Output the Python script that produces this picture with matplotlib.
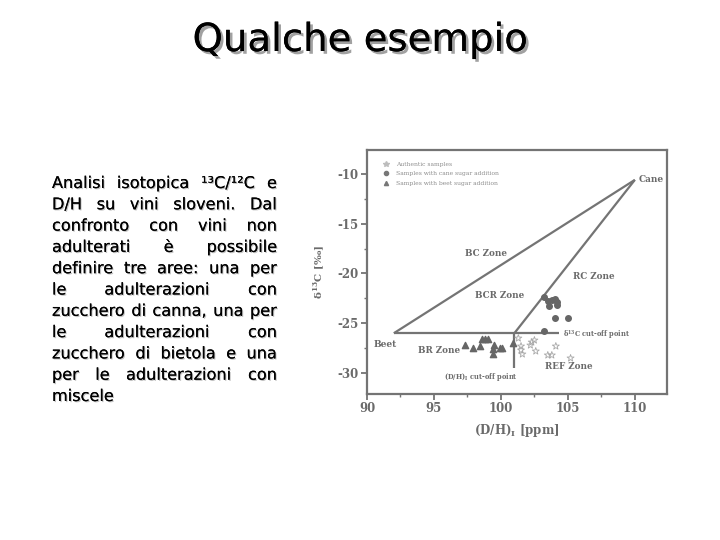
import matplotlib
matplotlib.use('Agg')
import matplotlib.pyplot as plt
import matplotlib.patheffects as pe
from matplotlib.ticker import MultipleLocator
from matplotlib.lines import Line2D

plt.rcParams['axes.unicode_minus'] = False

# ---------------- data ----------------
tri_x = [97.3, 97.9, 98.4, 98.6, 98.8, 99.0, 99.4, 99.5, 99.4, 99.9, 100.1, 100.9]
tri_y = [-27.2, -27.5, -27.3, -26.6, -26.6, -26.6, -28.1, -27.2, -27.6, -27.5, -27.5, -27.0]
circ_x = [103.2, 103.5, 103.6, 103.8, 104.0, 104.2, 104.2, 104.0, 105.0, 103.2]
circ_y = [-22.4, -22.8, -23.3, -22.7, -22.6, -22.9, -23.2, -24.5, -24.5, -25.8]
star_x = [101.3, 101.5, 101.5, 101.6, 102.2, 102.3, 102.5, 102.6, 103.5, 103.8, 104.1, 105.2]
star_y = [-26.5, -27.3, -27.7, -28.1, -27.2, -26.9, -26.7, -27.8, -28.2, -28.2, -27.3, -28.5]

cane_pt = (110.0, -10.6)
beet_pt = (92.0, -26.0)
dh_cut = 101.0
c13_cut = -26.0
c13_line_end = 104.3
dh_line_end = -29.5

zone_labels = ["BC Zone", "RC Zone", "BCR Zone", "BR Zone", "REF Zone"]
zone_x = [98.9, 106.9, 99.9, 95.4, 105.1]
zone_y = [-18.0, -20.3, -22.2, -27.7, -29.3]

legend_labels = ["Authentic samples", "Samples with cane sugar addition",
                 "Samples with beet sugar addition"]

x_ticks = [90, 95, 100, 105, 110]
y_ticks = [-10, -15, -20, -25, -30]

title = "Qualche esempio"
body_lines = [
    "Analisi isotopica \u00b9\u00b3C/\u00b9\u00b2C e",
    "D/H su vini sloveni. Dal",
    "confronto con vini non",
    "adulterati \u00e8 possibile",
    "definire tre aree: una per",
    "le adulterazioni con",
    "zucchero di canna, una per",
    "le adulterazioni con",
    "zucchero di bietola e una",
    "per le adulterazioni con",
    "miscele",
]

# ---------------- figure ----------------
W, H = 720, 540
fig = plt.figure(figsize=(7.2, 5.4), dpi=100)
fig.patch.set_facecolor('white')
r = fig.canvas.get_renderer()

def fx(px):
    return px / W

def fy(py):
    return 1 - py / H

BODY_FONT = 'DejaVu Sans'
shadow_small = [pe.withSimplePatchShadow(offset=(0.8, -0.8), shadow_rgbFace='#9a9a9a', alpha=0.6), pe.Normal()]
shadow_big = [pe.withSimplePatchShadow(offset=(2, -2), shadow_rgbFace='#8a8a8a', alpha=0.8), pe.Normal()]

def text_width(s, fs, family=BODY_FONT, weight='normal'):
    t = fig.text(0, 0, s, fontsize=fs, family=family, weight=weight)
    w = t.get_window_extent(r).width
    t.remove()
    return w

# Title: size fitted to the reference width
tw_target = 335
fs_t = 30
fs_t = fs_t * tw_target / text_width(title, fs_t)
fig.text(0.5, fy(51), title, ha='center', va='baseline', fontsize=fs_t,
         family=BODY_FONT, color='black', path_effects=shadow_big)

# Body text, justified between two margins
left_px, right_px = 52, 277
box_w = right_px - left_px
fs_b = 12.0
maxw = max(text_width(l, fs_b) for l in body_lines)
if maxw > box_w * 0.97:
    fs_b = fs_b * box_w * 0.97 / maxw
base0, step = 188, 21.3
for i, line in enumerate(body_lines):
    y = fy(base0 + i * step)
    words = line.split(' ')
    if i == len(body_lines) - 1 or len(words) == 1:
        fig.text(fx(left_px), y, line, fontsize=fs_b, family=BODY_FONT,
                 va='baseline', ha='left', path_effects=shadow_small)
        continue
    widths = [text_width(w_, fs_b) for w_ in words]
    gap = (box_w - sum(widths)) / (len(words) - 1)
    x = left_px
    for w_, wd in zip(words, widths):
        fig.text(fx(x), y, w_, fontsize=fs_b, family=BODY_FONT,
                 va='baseline', ha='left', path_effects=shadow_small)
        x += wd + gap

# ---------------- chart ----------------
gray_txt = '#6a6a6a'
gray_line = '#747474'
SERIF = 'DejaVu Serif'

ax = fig.add_axes([fx(367), fy(394), 300 / W, 244 / H])
ax.set_xlim(90, 112.4)
ax.set_ylim(-32.1, -7.6)

for s in ax.spines.values():
    s.set_color(gray_line)
    s.set_linewidth(1.6)

ax.xaxis.set_minor_locator(MultipleLocator(2.5))
ax.yaxis.set_minor_locator(MultipleLocator(2.5))
ax.set_xticks(x_ticks)
ax.set_yticks(y_ticks)
ax.tick_params(which='major', direction='out', length=4, width=1.3, colors=gray_line,
               labelcolor=gray_txt, labelsize=8.5, pad=2)
ax.tick_params(which='minor', direction='out', length=2.5, width=1.0, colors=gray_line)
for lab in ax.get_xticklabels() + ax.get_yticklabels():
    lab.set_family(SERIF)
    lab.set_weight('bold')

ax.set_xlabel(r'(D/H)$_\mathregular{I}$ [ppm]', fontsize=8.5, family=SERIF,
              weight='bold', color=gray_txt, labelpad=5)
ax.set_ylabel('\u03b4$^\\mathregular{13}$C [‰]', fontsize=7.5, family=SERIF,
              weight='bold', color=gray_txt, labelpad=8)

lkw = dict(color=gray_line, lw=1.6, solid_capstyle='butt', zorder=2)
ax.plot([beet_pt[0], cane_pt[0]], [beet_pt[1], cane_pt[1]], **lkw)
ax.plot([dh_cut, cane_pt[0]], [c13_cut, cane_pt[1]], **lkw)
ax.plot([beet_pt[0], c13_line_end], [c13_cut, c13_cut], **lkw)
ax.plot([dh_cut, dh_cut], [c13_cut, dh_line_end], **lkw)

ax.scatter(star_x, star_y, marker='*', s=28, facecolors='none',
           edgecolors='#a8a8a8', linewidths=0.6, zorder=3)
ax.scatter(circ_x, circ_y, marker='o', s=16, color='#666666', zorder=3)
ax.scatter(tri_x, tri_y, marker='^', s=20, color='#666666', zorder=3)

for lbl, zx, zy in zip(zone_labels, zone_x, zone_y):
    ax.text(zx, zy, lbl, ha='center', va='center', fontsize=6.3, family=SERIF,
            weight='bold', color=gray_txt)

ax.text(cane_pt[0] + 0.25, cane_pt[1], 'Cane', ha='left', va='center', fontsize=6.5,
        family=SERIF, weight='bold', color=gray_txt)
ax.text(beet_pt[0] - 1.5, beet_pt[1] - 1.1, 'Beet', ha='left', va='center', fontsize=6.5,
        family=SERIF, weight='bold', color=gray_txt)
ax.text(c13_line_end + 0.3, c13_cut - 0.2, '\u03b4$^\\mathregular{13}$C cut-off point', ha='left',
        va='center', fontsize=4.8, family=SERIF, weight='bold', color=gray_txt)
ax.text(dh_cut - 2.5, dh_line_end - 0.9, r'(D/H)$_\mathregular{I}$ cut-off point', ha='center',
        va='center', fontsize=4.8, family=SERIF, weight='bold', color=gray_txt)

handles = [
    Line2D([], [], ls='none', marker='*', markersize=4, markerfacecolor='#bdbdbd',
           markeredgecolor='#bdbdbd'),
    Line2D([], [], ls='none', marker='o', markersize=3, color='#777777'),
    Line2D([], [], ls='none', marker='^', markersize=3, color='#777777'),
]
leg = ax.legend(handles, legend_labels, loc='upper left', bbox_to_anchor=(0.035, 0.975),
                frameon=False, handlelength=1.0, handletextpad=1.2,
                labelspacing=0.75, prop={'family': SERIF, 'size': 4.3})
for t in leg.get_texts():
    t.set_color('#8a8a8a')

fig.savefig('out.png', dpi=100, facecolor='white')
